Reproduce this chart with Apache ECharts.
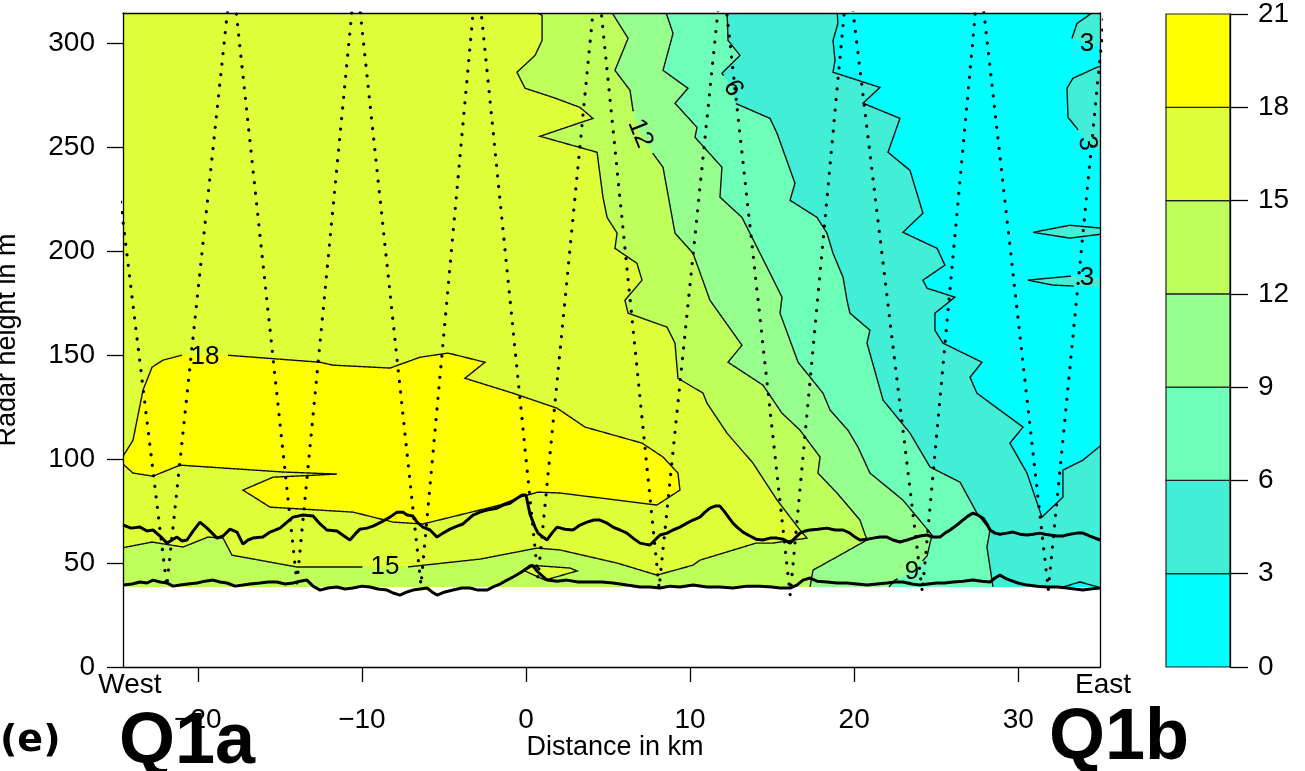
<!DOCTYPE html>
<html>
<head>
<meta charset="utf-8">
<script src="https://cdn.jsdelivr.net/npm/echarts@6/dist/echarts.min.js"></script>
<style>
  html, body { margin: 0; padding: 0; background: #fff; }
  #chart { width: 1305px; height: 771px; }
</style>
</head>
<body>
<div id="chart"></div>
<script>
// ---------- axis extents (distance in km, radar height in m) ----------
const xMin = -24.56, xMax = 34.98;
const yMin = 0, yMax = 314.6;
const fieldFloor = 38.5;               // lowest height covered by the gridded field
const xTicks = [-20, -10, 0, 10, 20, 30];
const yTicks = [0, 50, 100, 150, 200, 250, 300];
const levels = [0, 3, 6, 9, 12, 15, 18, 21];
const bandColors = ['#00ffff', '#42eed6', '#6effb8', '#96ff8e', '#bfff5c', '#dfff3a', '#ffff00'];

// ---------- contour lines [km, m] ----------
const contour15 = [[0.24,316.3],[0.98,313.5],[0.98,301.4],[0.55,294.2],[-0.55,286.1],[-0.06,278.4],[1.65,274.0],[3.29,269.2],[4.08,263.9],[0.85,255.3],[4.33,247.6],[4.69,226.0],[4.94,216.3],[5.55,208.7],[5.42,201.4],[6.76,194.2],[7.07,186.1],[6.03,176.4],[6.22,170.2],[8.59,163.5],[9.08,155.8],[9.26,138.9],[10.79,131.7],[11.03,126.9],[12.25,112.5],[13.83,98.1],[15.30,80.3],[16.70,65.9],[17.12,62.0],[15.05,59.6],[14.02,59.6],[10.60,51.4],[10.18,49.0],[7.98,44.2],[5.55,50.0],[2.07,56.3],[0.67,57.2],[-2.80,51.9],[-7.25,48.1],[-13.96,48.1],[-17.92,53.8],[-18.46,62.0],[-19.38,62.5],[-20.90,57.7],[-22.79,60.1],[-24.70,57.2]];
const contour12 = [[5.12,316.3],[6.22,302.4],[5.42,287.0],[6.34,277.4],[6.52,267.8],[6.95,256.7],[7.68,247.6],[8.35,240.4],[9.08,208.7],[10.18,199.0],[11.21,176.4],[13.16,154.8],[12.31,146.6],[14.44,135.6],[15.60,122.1],[16.70,113.9],[17.92,101.0],[17.79,93.3],[18.95,83.7],[20.35,70.7],[20.78,61.1],[19.13,53.8],[17.49,46.6],[17.31,38.5]];
const contour9 = [[8.47,316.3],[8.96,304.8],[8.35,287.0],[9.87,278.4],[9.08,271.2],[10.42,259.6],[10.30,254.8],[11.94,240.4],[11.82,226.0],[13.16,216.3],[14.69,192.3],[15.60,177.9],[15.48,170.2],[16.58,146.6],[18.10,131.7],[18.53,123.6],[19.62,113.9],[20.23,105.8],[20.96,93.3],[22.97,80.3],[24.74,63.5],[24.44,53.4],[23.52,45.7],[22.49,41.8],[22.12,38.5]];
const contour6 = [[12.25,316.3],[12.31,301.4],[13.04,294.2],[11.94,285.6],[12.61,278.4],[12.74,271.2],[14.87,263.9],[15.30,256.7],[16.39,232.7],[16.09,224.5],[17.73,216.3],[18.34,208.7],[18.71,199.0],[19.32,187.5],[19.56,176.4],[19.74,170.2],[20.96,162.0],[20.78,155.8],[21.76,128.4],[23.40,112.5],[24.62,96.2],[26.45,88.9],[27.48,74.0],[28.28,65.9],[28.09,57.7],[28.46,38.5]];
const contour3 = [[18.95,316.3],[19.01,309.6],[18.71,301.4],[18.83,291.8],[18.71,286.1],[21.57,278.8],[20.54,271.2],[22.79,263.9],[22.06,247.6],[23.40,238.9],[24.19,218.3],[22.97,209.1],[25.05,201.4],[25.53,193.3],[24.19,186.1],[24.44,182.2],[26.14,177.9],[24.92,170.2],[24.92,162.0],[25.41,155.8],[27.79,146.6],[27.06,139.4],[27.48,131.7],[30.29,115.4],[29.49,107.7],[30.53,93.3],[31.44,72.1],[32.72,81.7],[32.72,94.7],[33.94,99.5],[35.05,106.7]];
const patchTopRight = [[34.80,316.3],[33.58,309.6],[33.27,302.4],[34.13,299.5],[35.05,298.6]];
const patchRight = [[35.05,288.9],[34.80,288.5],[33.33,283.2],[32.97,278.4],[33.03,264.4],[33.58,259.1],[34.19,251.9],[35.05,248.6]];
const lensA = [[30.90,209.1],[33.15,212.5],[35.05,211.1],[35.05,208.2],[33.15,206.3]];
const lensB = [[30.59,186.1],[33.15,188.0],[35.05,187.5],[35.05,182.7],[32.11,183.7]];
const triangle03 = [[32.72,38.5],[33.76,40.9],[34.86,38.5]];
const island1518 = [[-0.18,46.6],[0.24,49.0],[2.68,47.6],[3.11,46.2],[1.16,41.8]];
const blob18 = [[-24.70,99.5],[-23.95,109.1],[-23.34,133.2],[-22.79,144.2],[-22.12,147.6],[-20.96,150.0],[-18.22,150.0],[-12.55,146.6],[-11.76,145.2],[-8.29,143.8],[-6.46,149.0],[-4.75,151.0],[-2.50,146.6],[-3.72,138.9],[-0.79,131.7],[1.89,124.5],[3.60,115.4],[7.07,107.7],[8.35,101.0],[9.26,93.3],[9.38,85.1],[7.98,77.9],[2.07,83.7],[0.73,84.1],[-0.37,81.7],[-1.58,77.9],[-6.28,68.8],[-8.10,69.7],[-10.54,74.5],[-15.60,76.9],[-17.25,85.1],[-15.42,91.3],[-11.52,92.8],[-14.81,93.8],[-21.08,97.1],[-22.73,91.8],[-23.95,93.3],[-24.70,98.6]];

// ---------- contour labels ----------
const labelText = ['18', '15', '12', '6', '3', '3', '3', '9'];
const labelPos = [[-19.56,149.0],[-8.59,48.1],[6.95,256.7],[12.61,278.4],[34.19,300.0],[34.19,251.9],[34.19,187.0],[23.52,45.7]];
const labelAngle = [0, 0, -68, -62, 0, -80, 0, 0];

// ---------- boundary-layer top lines [km, m] ----------
const upperBoundary = [[-24.56,68.3],[-24.07,66.8],[-23.52,67.3],[-23.10,65.4],[-22.73,65.9],[-22.30,63.0],[-21.88,59.6],[-21.57,61.1],[-21.27,62.5],[-20.96,60.6],[-20.66,61.1],[-20.29,65.4],[-19.87,69.7],[-19.44,66.8],[-19.13,64.4],[-18.83,62.0],[-18.46,63.0],[-18.04,66.3],[-17.61,64.9],[-17.25,59.1],[-16.94,61.1],[-16.64,62.0],[-16.03,62.5],[-15.60,64.9],[-14.99,66.8],[-14.56,69.7],[-14.20,72.1],[-13.59,73.1],[-12.98,72.6],[-12.55,68.8],[-12.13,65.9],[-11.52,65.4],[-11.09,63.0],[-10.73,61.1],[-10.42,63.9],[-10.12,66.3],[-9.69,66.8],[-9.32,67.8],[-8.71,70.2],[-8.29,72.1],[-7.86,74.5],[-7.50,74.5],[-7.25,73.1],[-6.89,72.6],[-6.64,69.7],[-6.28,67.3],[-5.85,65.9],[-5.42,62.5],[-5.06,64.4],[-4.63,66.3],[-4.20,67.8],[-3.84,68.8],[-3.23,73.1],[-2.80,74.5],[-2.38,75.5],[-1.77,76.4],[-1.40,77.9],[-0.98,78.8],[-0.61,80.8],[-0.24,82.7],[0.00,82.7],[0.24,73.6],[0.55,67.3],[0.73,64.4],[1.04,62.5],[1.28,61.1],[1.58,64.4],[1.89,67.3],[2.38,66.3],[2.86,65.9],[3.29,68.3],[3.72,69.7],[4.14,70.7],[4.51,70.7],[4.94,69.2],[5.30,67.3],[5.73,65.9],[6.15,64.4],[6.52,62.0],[6.95,59.6],[7.25,59.1],[7.56,58.7],[7.86,61.1],[8.17,63.5],[8.59,64.4],[8.96,65.9],[9.38,67.3],[9.81,69.2],[10.18,70.7],[10.60,72.1],[10.91,74.5],[11.21,76.4],[11.52,77.4],[11.82,77.4],[12.07,75.0],[12.25,73.1],[12.61,69.2],[12.86,67.3],[13.22,64.9],[13.65,63.0],[14.02,61.5],[14.44,61.1],[14.87,62.0],[15.30,62.0],[15.66,61.5],[16.09,59.6],[16.39,62.0],[16.70,64.4],[17.00,65.4],[17.31,65.9],[17.79,66.3],[18.34,66.8],[18.83,65.9],[19.32,65.9],[19.74,64.4],[20.05,62.5],[20.35,61.1],[20.78,61.5],[21.15,62.0],[21.57,62.5],[22.00,62.5],[22.36,61.1],[22.79,60.1],[23.22,61.1],[23.58,62.0],[24.01,63.0],[24.44,63.5],[24.80,62.5],[25.23,62.5],[25.53,64.4],[25.84,65.9],[26.26,68.3],[26.63,70.7],[26.93,72.6],[27.24,74.0],[27.54,73.1],[27.85,71.6],[28.09,68.8],[28.28,65.9],[28.58,64.4],[28.88,63.9],[29.31,64.4],[29.68,64.9],[30.10,63.9],[30.53,63.5],[30.90,63.9],[31.32,64.4],[31.63,63.9],[31.93,63.5],[32.36,63.0],[32.72,63.0],[33.15,63.9],[33.58,64.4],[33.94,64.4],[34.37,63.0],[34.98,61.1]];
const lowerBoundary = [[-24.56,39.4],[-24.01,39.9],[-23.52,40.9],[-23.10,40.4],[-22.73,41.8],[-22.30,40.9],[-21.88,40.4],[-21.51,38.9],[-21.08,39.4],[-20.60,39.9],[-20.05,40.4],[-19.56,41.3],[-19.07,41.8],[-18.65,40.9],[-18.22,40.4],[-17.73,38.9],[-17.25,39.4],[-16.82,39.9],[-16.21,40.4],[-15.72,40.9],[-15.17,40.9],[-14.69,39.9],[-14.20,40.4],[-13.77,41.3],[-13.35,41.8],[-12.98,38.9],[-12.55,37.0],[-12.07,38.0],[-11.52,38.5],[-11.03,37.5],[-10.54,38.0],[-9.99,38.9],[-9.51,38.5],[-9.02,37.5],[-8.47,37.0],[-8.10,35.6],[-7.68,34.6],[-7.25,36.1],[-6.89,37.0],[-6.46,37.5],[-6.03,38.0],[-5.73,36.1],[-5.42,34.6],[-4.94,36.1],[-4.45,37.0],[-3.90,38.0],[-3.41,38.0],[-2.93,37.0],[-2.38,37.0],[-2.01,38.5],[-1.58,39.9],[-1.16,41.8],[-0.79,43.3],[-0.37,45.2],[0.00,47.1],[0.37,49.0],[0.73,45.7],[1.28,41.8],[1.89,41.3],[2.50,41.8],[3.17,40.9],[3.90,40.9],[4.63,40.9],[5.30,40.4],[6.15,39.4],[6.95,38.5],[7.56,38.5],[8.17,38.0],[8.78,38.9],[9.38,38.5],[10.18,39.4],[11.03,38.5],[11.82,38.5],[12.61,38.0],[13.47,38.9],[14.26,38.9],[14.99,38.5],[15.48,38.0],[16.09,38.0],[16.51,39.4],[16.88,41.8],[17.31,42.8],[17.73,41.3],[18.34,40.9],[18.95,40.4],[19.56,40.4],[20.17,39.9],[20.78,39.4],[21.39,39.9],[22.00,40.4],[22.49,40.9],[22.97,40.9],[23.52,39.9],[24.01,39.4],[24.50,39.9],[25.05,40.4],[25.53,40.4],[26.02,40.9],[26.63,41.3],[27.24,41.8],[27.79,41.3],[28.28,40.9],[28.58,42.8],[28.88,44.2],[29.19,42.8],[29.49,41.8],[29.98,40.4],[30.53,39.4],[31.14,38.9],[31.75,38.5],[32.36,38.5],[32.97,38.0],[33.45,37.5],[33.94,37.0],[34.37,37.5],[34.98,38.0]];

// ---------- aircraft profile turning points [km, m] ----------
const flightTrack = [[-26.4,335],[-21.89,38.9],[-17.93,335],[-13.96,40.4],[-10.37,335],[-6.40,39.4],[-2.99,335],[0.73,42.8],[4.33,335],[8.11,38.0],[11.95,335],[16.10,34.6],[19.63,335],[24.15,36.1],[27.62,335],[31.83,37.0],[35.5,335]];

// ---------- build filled regions (painted in order) ----------
const X0 = xMin - 1, X1 = xMax + 1, Y1 = yMax + 2;
const regions = [
  { band: 4, pts: [[X0, fieldFloor], [X1, fieldFloor], [X1, Y1], [X0, Y1]] },
  { band: 5, pts: contour15.concat([[X0, contour15[contour15.length - 1][1]], [X0, Y1]]) },
  { band: 3, pts: contour12.concat([[X1, fieldFloor], [X1, Y1]]) },
  { band: 2, pts: contour9.concat([[X1, fieldFloor], [X1, Y1]]) },
  { band: 1, pts: contour6.concat([[X1, fieldFloor], [X1, Y1]]) },
  { band: 0, pts: contour3.concat([[X1, Y1]]) },
  { band: 1, pts: patchTopRight.concat([[X1, Y1]]) },
  { band: 1, pts: patchRight },
  { band: 1, pts: lensA },
  { band: 1, pts: lensB },
  { band: 0, pts: triangle03 },
  { band: 5, pts: island1518 },
  { band: 6, pts: blob18 }
];
const closed = a => a.concat([a[0]]);
const contourLines = [contour15, contour12, contour9, contour6, contour3, patchTopRight, patchRight,
  closed(lensA), closed(lensB), triangle03, closed(island1518), closed(blob18)];

const FONT = '"Liberation Sans", Arial, Helvetica, sans-serif';
const labelFontSize = 26;
const tickFontSize = 28;

// split a pixel polyline so that it leaves a gap around each contour label
function cutPolyline(pts, gaps) {
  const inside = p => gaps.some(g => Math.hypot(p[0] - g.c[0], p[1] - g.c[1]) < g.r);
  const pieces = [];
  let cur = [];
  const add = p => {
    if (inside(p)) { if (cur.length > 1) pieces.push(cur); cur = []; }
    else cur.push(p);
  };
  add(pts[0]);
  for (let i = 1; i < pts.length; i++) {
    const a = pts[i - 1], b = pts[i];
    const n = Math.max(1, Math.ceil(Math.hypot(b[0] - a[0], b[1] - a[1])));
    for (let k = 1; k <= n; k++) add([a[0] + (b[0] - a[0]) * k / n, a[1] + (b[1] - a[1]) * k / n]);
  }
  if (cur.length > 1) pieces.push(cur);
  return pieces;
}

const minusFmt = v => (v < 0 ? '\u2212' + Math.abs(v) : String(v));
const blackLine = { color: '#000', width: 1.3 };

const chart = echarts.init(document.getElementById('chart'), null, { renderer: 'canvas' });
chart.setOption({
  animation: false,
  backgroundColor: '#fff',
  textStyle: { fontFamily: FONT, color: '#000' },
  grid: [
    { left: 123, top: 13, width: 977, height: 654 },
    { left: 1166, top: 13, width: 64, height: 654 }
  ],
  xAxis: [
    { gridIndex: 0, type: 'value', min: xMin, max: xMax, position: 'bottom', z: 10,
      axisLine: { show: true, onZero: false, lineStyle: blackLine },
      axisTick: { show: true, inside: false, length: 15, customValues: xTicks, lineStyle: blackLine },
      axisLabel: { customValues: xTicks, margin: 39, fontSize: tickFontSize, color: '#000', fontFamily: FONT, formatter: minusFmt },
      splitLine: { show: false } },
    { gridIndex: 0, type: 'value', min: xMin, max: xMax, position: 'top', z: 10,
      axisLine: { show: true, onZero: false, lineStyle: blackLine },
      axisTick: { show: false }, axisLabel: { show: false }, splitLine: { show: false } },
    { gridIndex: 1, type: 'value', min: 0, max: 1, show: false }
  ],
  yAxis: [
    { gridIndex: 0, type: 'value', min: yMin, max: yMax, position: 'left', z: 10,
      axisLine: { show: true, onZero: false, lineStyle: blackLine },
      axisTick: { show: true, inside: false, length: 16, customValues: yTicks, lineStyle: blackLine },
      axisLabel: { customValues: yTicks, margin: 28, fontSize: tickFontSize, color: '#000', fontFamily: FONT },
      splitLine: { show: false } },
    { gridIndex: 0, type: 'value', min: yMin, max: yMax, position: 'right', z: 10,
      axisLine: { show: true, onZero: false, lineStyle: blackLine },
      axisTick: { show: false }, axisLabel: { show: false }, splitLine: { show: false } },
    { gridIndex: 1, type: 'value', min: 0, max: 21, interval: 3, position: 'right', z: 10,
      axisLine: { show: true, onZero: false, lineStyle: blackLine },
      axisTick: { show: true, inside: false, length: 18, lineStyle: blackLine },
      axisLabel: { margin: 28, fontSize: tickFontSize, color: '#000', fontFamily: FONT },
      splitLine: { show: false } }
  ],
  series: [
    { type: 'custom', name: 'field', coordinateSystem: 'cartesian2d', xAxisIndex: 0, yAxisIndex: 0,
      clip: true, silent: true, z: 1,
      data: regions.map(r => r.pts[0]),
      renderItem: (params, api) => {
        const r = regions[params.dataIndex];
        return { type: 'polygon', shape: { points: r.pts.map(p => api.coord(p)) },
                 style: { fill: bandColors[r.band], stroke: null } };
      } },
    { type: 'custom', name: 'contours', coordinateSystem: 'cartesian2d', xAxisIndex: 0, yAxisIndex: 0,
      clip: true, silent: true, z: 2,
      data: contourLines.map(l => l[0]),
      renderItem: (params, api) => {
        const px = contourLines[params.dataIndex].map(p => api.coord(p));
        const gaps = labelPos.map((p, i) => ({ c: api.coord(p), r: labelFontSize * 0.28 * labelText[i].length + 8 }));
        return { type: 'group', children: cutPolyline(px, gaps).map(pc => ({
          type: 'polyline', shape: { points: pc }, style: { stroke: '#111', lineWidth: 1.4, fill: null } })) };
      } },
    { type: 'line', name: 'upper boundary', xAxisIndex: 0, yAxisIndex: 0, data: upperBoundary,
      symbol: 'none', lineStyle: { color: '#000', width: 3 }, z: 3, silent: true },
    { type: 'line', name: 'lower boundary', xAxisIndex: 0, yAxisIndex: 0, data: lowerBoundary,
      symbol: 'none', lineStyle: { color: '#000', width: 3 }, z: 3, silent: true },
    { type: 'line', name: 'flight track', xAxisIndex: 0, yAxisIndex: 0, data: flightTrack,
      symbol: 'none', lineStyle: { color: '#000', width: 3.2, type: [0.1, 10.5], cap: 'round' }, z: 4, silent: true },
    { type: 'custom', name: 'contour labels', coordinateSystem: 'cartesian2d', xAxisIndex: 0, yAxisIndex: 0,
      clip: true, silent: true, z: 5,
      data: labelPos,
      renderItem: (params, api) => {
        const i = params.dataIndex;
        const p = api.coord(labelPos[i]);
        return { type: 'text', x: p[0], y: p[1], rotation: labelAngle[i] * Math.PI / 180,
                 style: { text: labelText[i], fill: '#000', font: labelFontSize + 'px ' + FONT,
                          align: 'center', verticalAlign: 'middle' } };
      } },
    { type: 'custom', name: 'colour bar', coordinateSystem: 'cartesian2d', xAxisIndex: 2, yAxisIndex: 2,
      silent: true, z: 1,
      data: bandColors.map((c, i) => [0.5, levels[i]]),
      renderItem: (params, api) => {
        const i = params.dataIndex;
        const a = api.coord([0, levels[i]]), b = api.coord([1, levels[i + 1]]);
        return { type: 'rect', shape: { x: a[0], y: b[1], width: b[0] - a[0], height: a[1] - b[1] },
                 style: { fill: bandColors[i], stroke: '#222', lineWidth: 1.2 } };
      } }
  ],
  graphic: [
    { type: 'text', x: 130, y: 685, style: { text: 'West', font: tickFontSize + 'px ' + FONT, fill: '#000', align: 'center', verticalAlign: 'middle' } },
    { type: 'text', x: 1103, y: 685, style: { text: 'East', font: tickFontSize + 'px ' + FONT, fill: '#000', align: 'center', verticalAlign: 'middle' } },
    { type: 'text', x: 615, y: 748, style: { text: 'Distance in km', font: '27px ' + FONT, fill: '#000', align: 'center', verticalAlign: 'middle' } },
    { type: 'text', x: 8, y: 340, rotation: Math.PI / 2, style: { text: 'Radar height in m', font: '27px ' + FONT, fill: '#000', align: 'center', verticalAlign: 'middle' } },
    { type: 'text', x: 0, y: 741, style: { text: '(e)', font: 'bold 38px "DejaVu Sans", sans-serif', fill: '#000', align: 'left', verticalAlign: 'middle' } },
    { type: 'text', x: 119, y: 743, style: { text: 'Q1a', font: 'bold 72px ' + FONT, fill: '#000', align: 'left', verticalAlign: 'middle' } },
    { type: 'text', x: 1049, y: 739, style: { text: 'Q1b', font: 'bold 72px ' + FONT, fill: '#000', align: 'left', verticalAlign: 'middle' } }
  ]
});
</script>
</body>
</html>
